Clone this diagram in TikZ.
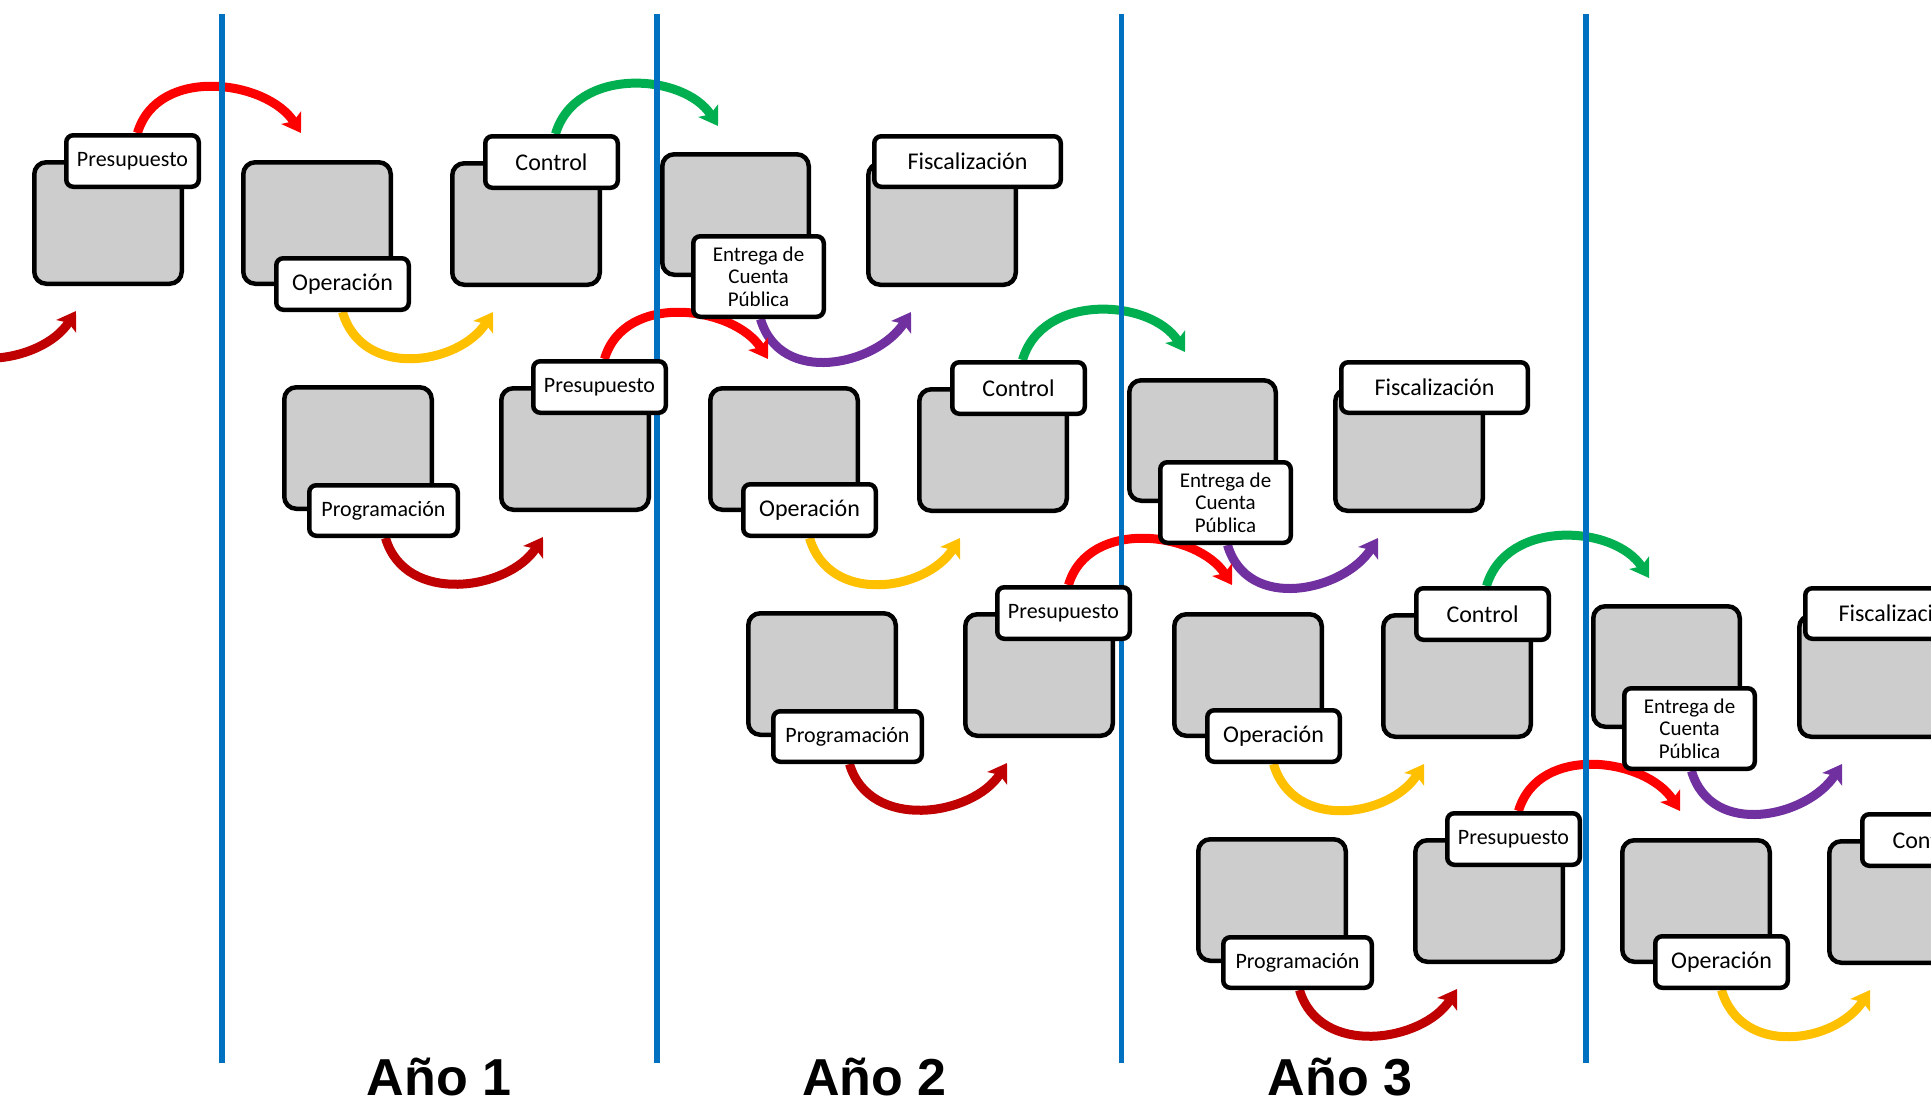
\documentclass[tikz,border=0pt]{standalone}
\usepackage{fontspec}
\setmainfont{Carlito}
\newfontfamily\anio{Liberation Sans}
\usepackage{tikz}
\usetikzlibrary{arrows.meta}

\definecolor{azul}{RGB}{0,112,192}
\definecolor{gris}{RGB}{205,205,205}
\definecolor{rojo}{RGB}{255,0,0}
\definecolor{rojooscuro}{RGB}{192,0,0}
\definecolor{amarillo}{RGB}{255,192,0}
\definecolor{verde}{RGB}{0,176,80}
\definecolor{morado}{RGB}{112,48,160}

\pgfdeclarelayer{flechas}
\pgfsetlayers{flechas,main}

\begin{document}
\begin{tikzpicture}[x=1pt,y=-1pt,>={Stealth[length=18pt,width=23pt,inset=4pt]}]
\tikzstyle{caja}=[rectangle,draw,line width=4.5pt,fill=gris,rounded corners=12pt,minimum width=147.5pt,minimum height=121.5pt,inner sep=0pt,anchor=north west]
\tikzstyle{etiqueta}=[rectangle,draw,line width=4.5pt,fill=white,rounded corners=7pt,minimum width=132.5pt,minimum height=51.5pt,inner sep=0pt,anchor=north west,font=\fontsize{22}{23}\selectfont]
\tikzstyle{grande}=[font=\fontsize{24}{25}\selectfont]
\tikzstyle{entrega}=[minimum width=130.5pt,minimum height=80.5pt,align=center,font=\fontsize{21}{22.5}\selectfont]
\tikzstyle{fisc}=[minimum width=186.5pt,minimum height=50.5pt]
\tikzstyle{prog}=[minimum width=148.5pt,minimum height=50.5pt]
\tikzstyle{linea}=[azul,line width=5.5pt]
\tikzstyle{flecha}=[->,line width=9pt]
\tikzstyle{anio}=[font=\anio\bfseries\fontsize{52}{60}\selectfont,anchor=base,inner sep=0pt]

\useasboundingbox (0,0) rectangle (1931,1101);

% separadores de los anios
\draw[linea] (222,14) -- (222,1063);
\draw[linea] (657,14) -- (657,1063);
\draw[linea] (1121.5,14) -- (1121.5,1063);
\draw[linea] (1586,14) -- (1586,1063);

\node[anio] (anio1) at (439,1095) {Año 1};
\node[anio] (anio2) at (874.5,1095) {Año 2};
\node[anio] (anio3) at (1340,1095) {Año 3};

% fila 1
\begin{scope}[shift={(32,160)}]
\coordinate (pro1s) at (-113,152);
\node[caja] (pre1) at (0,0) {};
\node[etiqueta] (pre1t) at (32,-27) {Presupuesto};
\node[caja] (ope1) at (209,0) {};
\node[etiqueta,grande] (ope1t) at (242,96) {Operación};
\node[caja] (con1) at (418,1) {};
\node[etiqueta,grande] (con1t) at (451,-26) {Control};
\node[caja,minimum width=146.5pt,minimum height=120.5pt] (ent1) at (628,-8) {};
\node[etiqueta,entrega] (ent1t) at (659,74) {Entrega de\\Cuenta\\Pública};
\node[caja] (fis1) at (834,1) {};
\node[etiqueta,grande,fisc] (fis1t) at (840,-26) {Fiscalización};
\end{scope}

% fila 2
\begin{scope}[shift={(499,386)}]
\node[caja] (pro2) at (-217,-1) {};
\node[etiqueta,prog] (pro2t) at (-192,97) {Programación};
\node[caja] (pre2) at (0,0) {};
\node[etiqueta] (pre2t) at (32,-27) {Presupuesto};
\node[caja] (ope2) at (209,0) {};
\node[etiqueta,grande] (ope2t) at (242,96) {Operación};
\node[caja] (con2) at (418,1) {};
\node[etiqueta,grande] (con2t) at (451,-26) {Control};
\node[caja,minimum width=146.5pt,minimum height=120.5pt] (ent2) at (628,-8) {};
\node[etiqueta,entrega] (ent2t) at (659,74) {Entrega de\\Cuenta\\Pública};
\node[caja] (fis2) at (834,1) {};
\node[etiqueta,grande,fisc] (fis2t) at (840,-26) {Fiscalización};
\end{scope}

% fila 3
\begin{scope}[shift={(963,612)}]
\node[caja] (pro3) at (-217,-1) {};
\node[etiqueta,prog] (pro3t) at (-192,97) {Programación};
\node[caja] (pre3) at (0,0) {};
\node[etiqueta] (pre3t) at (32,-27) {Presupuesto};
\node[caja] (ope3) at (209,0) {};
\node[etiqueta,grande] (ope3t) at (242,96) {Operación};
\node[caja] (con3) at (418,1) {};
\node[etiqueta,grande] (con3t) at (451,-26) {Control};
\node[caja,minimum width=146.5pt,minimum height=120.5pt] (ent3) at (628,-8) {};
\node[etiqueta,entrega] (ent3t) at (659,74) {Entrega de\\Cuenta\\Pública};
\node[caja] (fis3) at (834,1) {};
\node[etiqueta,grande,fisc] (fis3t) at (840,-26) {Fiscalización};
\end{scope}

% fila 4
\begin{scope}[shift={(1413,838)}]
\node[caja] (pro4) at (-217,-1) {};
\node[etiqueta,prog] (pro4t) at (-192,97) {Programación};
\node[caja] (pre4) at (0,0) {};
\node[etiqueta] (pre4t) at (32,-27) {Presupuesto};
\node[caja] (ope4) at (207,0) {};
\node[etiqueta,grande] (ope4t) at (240,96) {Operación};
\node[caja] (con4) at (414,1) {};
\node[etiqueta,grande] (con4t) at (447,-26) {Control};
\end{scope}

% flechas del ciclo
\begin{pgfonlayer}{flechas}
\draw[flecha,rojooscuro] (pro1s) .. controls +(20,68) and +(-34,53) .. ([shift={(44,25)}]pre1.south west);
\draw[flecha,rojo] ([xshift=5pt]pre1t.north) .. controls +(20,-68) and +(-34,-53) .. ([shift={(60,-27)}]ope1.north west);
\draw[flecha,amarillo] (ope1t.south) .. controls +(20,68) and +(-34,53) .. ([shift={(43,25)}]con1.south west);
\draw[flecha,verde] ([xshift=4pt]con1t.north) .. controls +(20,-68) and +(-34,-53) .. ([shift={(58,-26)}]ent1.north west);
\draw[flecha,morado] ([xshift=2pt]ent1t.south) .. controls +(20,68) and +(-34,53) .. ([shift={(45,25)}]fis1.south west);

\draw[flecha,rojooscuro] ([xshift=2pt]pro2t.south) .. controls +(20,68) and +(-34,53) .. ([shift={(44,25)}]pre2.south west);
\draw[flecha,rojo] ([xshift=5pt]pre2t.north) .. controls +(20,-68) and +(-34,-53) .. ([shift={(60,-27)}]ope2.north west);
\draw[flecha,amarillo] (ope2t.south) .. controls +(20,68) and +(-34,53) .. ([shift={(43,25)}]con2.south west);
\draw[flecha,verde] ([xshift=4pt]con2t.north) .. controls +(20,-68) and +(-34,-53) .. ([shift={(58,-26)}]ent2.north west);
\draw[flecha,morado] ([xshift=2pt]ent2t.south) .. controls +(20,68) and +(-34,53) .. ([shift={(45,25)}]fis2.south west);

\draw[flecha,rojooscuro] ([xshift=2pt]pro3t.south) .. controls +(20,68) and +(-34,53) .. ([shift={(44,25)}]pre3.south west);
\draw[flecha,rojo] ([xshift=5pt]pre3t.north) .. controls +(20,-68) and +(-34,-53) .. ([shift={(60,-27)}]ope3.north west);
\draw[flecha,amarillo] (ope3t.south) .. controls +(20,68) and +(-34,53) .. ([shift={(43,25)}]con3.south west);
\draw[flecha,verde] ([xshift=4pt]con3t.north) .. controls +(20,-68) and +(-34,-53) .. ([shift={(58,-26)}]ent3.north west);
\draw[flecha,morado] ([xshift=2pt]ent3t.south) .. controls +(20,68) and +(-34,53) .. ([shift={(45,25)}]fis3.south west);

\draw[flecha,rojooscuro] ([xshift=2pt]pro4t.south) .. controls +(20,68) and +(-34,53) .. ([shift={(44,25)}]pre4.south west);
\draw[flecha,rojo] ([xshift=5pt]pre4t.north) .. controls +(20,-68) and +(-34,-53) .. ([shift={(60,-27)}]ope4.north west);
\draw[flecha,amarillo] (ope4t.south) .. controls +(20,68) and +(-34,53) .. ([shift={(43,25)}]con4.south west);
\end{pgfonlayer}
\end{tikzpicture}
\end{document}
